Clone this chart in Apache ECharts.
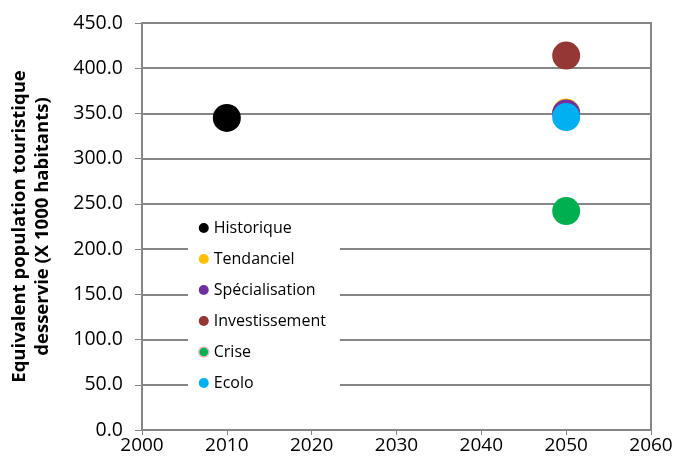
<!DOCTYPE html>
<html><head><meta charset="utf-8">
<script src="https://cdn.jsdelivr.net/npm/echarts@6/dist/echarts.min.js"></script>
<style>html,body{margin:0;padding:0;background:#fff}#c{width:676px;height:469px}</style>
</head><body><div id="c"></div>
<script>
const seriesNames = ['Historique','Tendanciel','Spécialisation','Investissement','Crise','Ecolo'];
const seriesColors = ['#000000','#ffc000','#7030a0','#953735','#00b050','#00b0f0'];
const seriesYears = [2010, 2050, 2050, 2050, 2050, 2050];
const seriesValues = [345, 351, 350, 414, 242, 346];
const yTicks = [0, 50, 100, 150, 200, 250, 300, 350, 400, 450];
const xTicks = [2000, 2010, 2020, 2030, 2040, 2050, 2060];

const font = '"Open Sans", "DejaVu Sans", sans-serif';
const gray = '#868686';
const chart = echarts.init(document.getElementById('c'));
chart.setOption({
  animation: false,
  backgroundColor: '#fff',
  grid: {left: 142, right: 25, top: 23, bottom: 39, show: true, borderColor: gray, borderWidth: 2, backgroundColor: 'transparent', outerBoundsMode: 'none', containLabel: false},
  xAxis: {
    type: 'value', min: xTicks[0], max: xTicks[xTicks.length-1], interval: 10,
    axisLine: {show: true, lineStyle: {color: gray, width: 2}},
    axisTick: {show: true, length: 5, lineStyle: {color: gray, width: 1}},
    splitLine: {show: false},
    axisLabel: {color: '#000', fontSize: 19, fontFamily: font, margin: 6, formatter: v => String(v)}
  },
  yAxis: {
    type: 'value', min: yTicks[0], max: yTicks[yTicks.length-1], interval: 50,
    name: 'Equivalent population touristique\ndesservie (X 1000 habitants)',
    nameLocation: 'middle', nameGap: 88,
    nameTextStyle: {color: '#000', fontSize: 18.5, fontWeight: 'bold', fontFamily: font, lineHeight: 23},
    axisLine: {show: true, lineStyle: {color: gray, width: 2}},
    axisTick: {show: true, length: 7, lineStyle: {color: gray, width: 1}},
    splitLine: {show: true, lineStyle: {color: gray, width: 2}},
    axisLabel: {color: '#000', fontSize: 19.5, fontFamily: font, margin: 19, formatter: v => v.toFixed(1)}
  },
  legend: {
    left: 188, top: 213, orient: 'vertical',
    backgroundColor: '#fff', padding: [6, 14, 6, 10],
    itemWidth: 10, itemHeight: 10, itemGap: 13,
    icon: 'circle',
    textStyle: {color: '#000', fontSize: 16, fontFamily: font, lineHeight: 18},
    data: seriesNames.map((n, i) => i === 4 ? {name: n, itemStyle: {borderColor: '#e6b9b8', borderWidth: 1.5}} : {name: n})
  },
  series: seriesNames.map((n, i) => ({
    name: n, type: 'scatter', symbol: 'circle', symbolSize: 28,
    itemStyle: {color: seriesColors[i], opacity: 1},
    data: [[seriesYears[i], seriesValues[i]]],
    z: 3 + i
  }))
});
</script></body></html>
